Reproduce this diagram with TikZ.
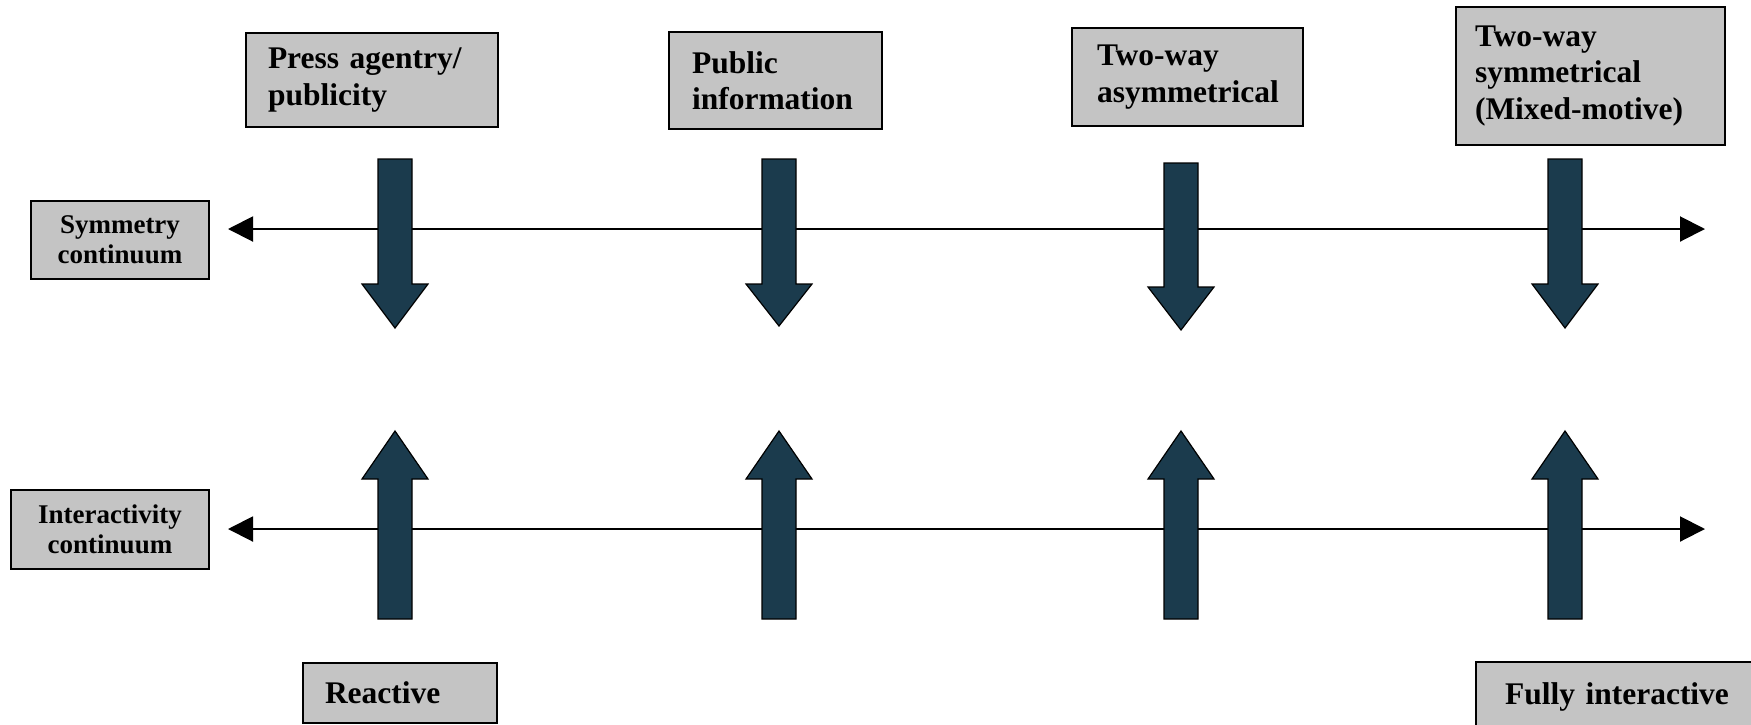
\documentclass[tikz,border=0pt]{standalone}
\usepackage{fontspec}
\setmainfont{Liberation Serif}
\usetikzlibrary{arrows.meta}
\definecolor{boxgray}{RGB}{196,196,196}
\definecolor{arrowteal}{RGB}{27,59,77}
\hyphenpenalty=10000
\exhyphenpenalty=10000
\begin{document}
\begin{tikzpicture}[x=1pt,y=-1pt,
  modelbox/.style={draw=black, line width=1.8pt, fill=boxgray, inner ysep=0pt,
    align=left, font=\fontsize{31.5}{36.5}\selectfont\bfseries},
  sidebox/.style={draw=black, line width=1.8pt, fill=boxgray, inner sep=0pt,
    align=center, font=\fontsize{27}{30}\selectfont\bfseries},
  continuum/.style={line width=2pt, {Triangle[length=25pt,width=25pt]}-{Triangle[length=25pt,width=25pt]}},
  blockarrow/.style={fill=arrowteal, draw=black, line width=1.2pt, line join=miter}
]
\useasboundingbox (0,0) rectangle (1751,724);

% four models of public relations
\node[modelbox, minimum width=252pt, minimum height=94pt, inner xsep=22pt, text width=208pt]
  (press) at (372,80) {Press agentry/\\publicity};
\node[modelbox, minimum width=213pt, minimum height=97pt, inner xsep=23pt, text width=167pt]
  (public) at (775.5,80.5) {Public\\information};
\node[modelbox, minimum width=231pt, minimum height=98pt, inner xsep=25pt, text width=181pt]
  (asym) at (1187.5,77) {Two-way\\asymmetrical};
\node[modelbox, minimum width=269pt, minimum height=138pt, inner xsep=19pt, text width=231pt]
  (twosym) at (1590.5,76) {Two-way\\symmetrical\\(Mixed-motive)};

% continuum labels
\node[sidebox, minimum width=178pt, minimum height=78pt] (symlabel) at (120,240) {Symmetry\\continuum};
\node[sidebox, minimum width=198pt, minimum height=79pt] (intlabel) at (110,529.5) {Interactivity\\continuum};

% end points of the interactivity scale
\node[modelbox, anchor=base, minimum width=194pt, inner xsep=22pt, text width=150pt,
  text height=40pt, text depth=20pt] (reactive) at (400,703) {Reactive};
\node[modelbox, anchor=base, minimum width=304pt, inner xsep=29pt, text width=246pt,
  text height=42pt, text depth=32pt] (fully) at (1628,704) {Fully interactive};

% the two continua
\coordinate (symL) at (228,229);
\coordinate (symR) at (1705,229);
\coordinate (intL) at (228,529);
\coordinate (intR) at (1705,529);
\draw[continuum] (symL) -- (symR);
\draw[continuum] (intL) -- (intR);

% downward block arrows on the symmetry continuum
\foreach \x/\t/\h/\b in {395/159/284/328, 779/159/284/326, 1181/163/287/330, 1565/159/284/328}{
  \filldraw[blockarrow] ({\x-17},\t) -- ({\x+17},\t) -- ({\x+17},\h) -- ({\x+33},\h)
    -- (\x,\b) -- ({\x-33},\h) -- ({\x-17},\h) -- cycle;
}

% upward block arrows on the interactivity continuum
\foreach \x in {395,779,1181,1565}{
  \filldraw[blockarrow] ({\x-17},619) -- ({\x+17},619) -- ({\x+17},479) -- ({\x+33},479)
    -- (\x,431) -- ({\x-33},479) -- ({\x-17},479) -- cycle;
}
\end{tikzpicture}
\end{document}
